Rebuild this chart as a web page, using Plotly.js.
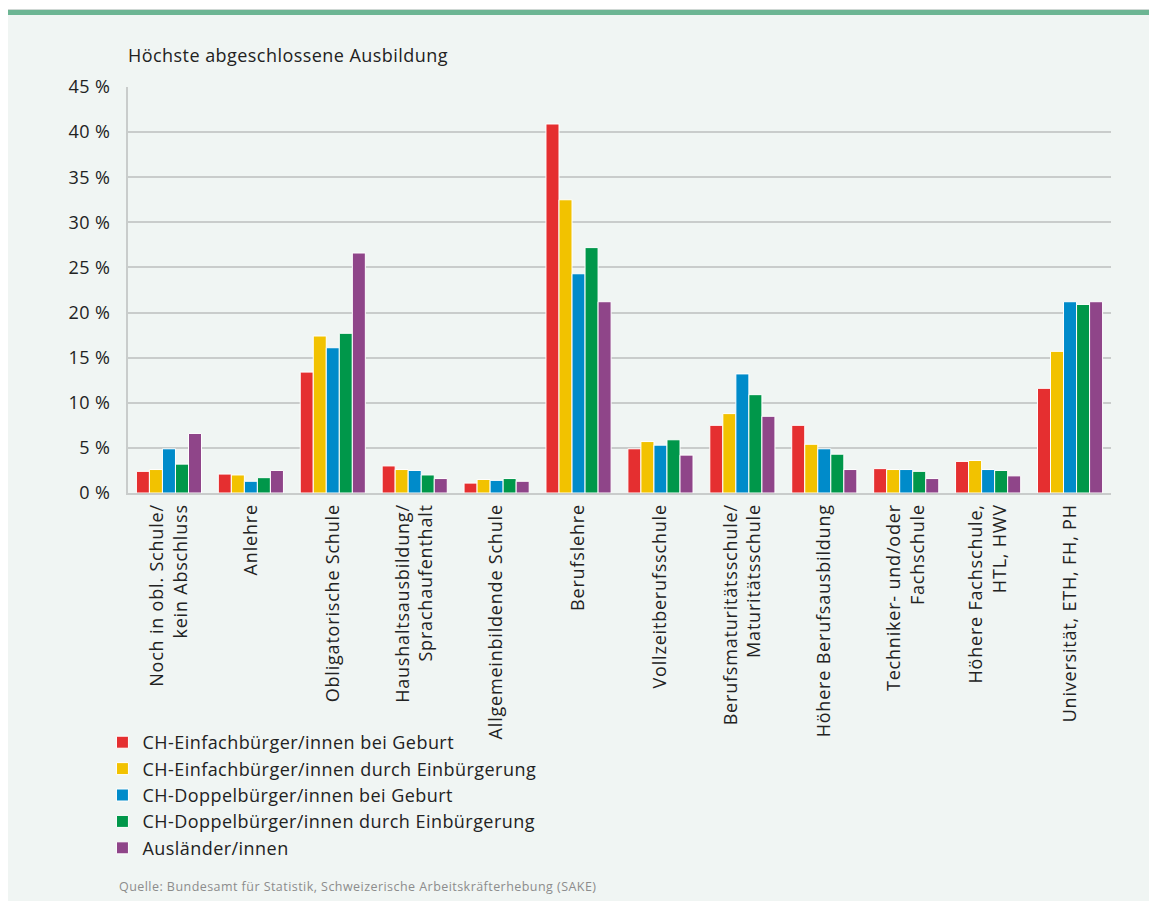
<!DOCTYPE html>
<html>
<head>
<meta charset="utf-8">
<script src="https://cdn.plot.ly/plotly-3.0.1.min.js"></script>
<style>
  html, body { margin: 0; padding: 0; background: #ffffff; }
  #wrap { position: absolute; left: 8px; top: 9px; width: 1141px; height: 892px;
          background: #f0f5f3; border-top: 1px solid #cfd8d4; }
  #bar { height: 5px; background: #6cb593; }
  #chart { width: 1141px; height: 886px; }
  #chart svg text { letter-spacing: 0.45px; }
  #chart svg .xtick text { letter-spacing: 0.8px; }
  #chart .legend .scrollbox { clip-path: none !important; }
</style>
</head>
<body>
<div id="wrap"><div id="bar"></div><div id="chart"></div></div>
<script>
const categories = [
  "Noch in obl. Schule/<br>kein Abschluss",
  "Anlehre",
  "Obligatorische Schule",
  "Haushaltsausbildung/<br>Sprachaufenthalt",
  "Allgemeinbildende Schule",
  "Berufslehre",
  "Vollzeitberufsschule",
  "Berufsmaturitätsschule/<br>Maturitätsschule",
  "Höhere Berufsausbildung",
  "Techniker- und/oder<br>Fachschule",
  "Höhere Fachschule,<br>HTL, HWV",
  "Universität, ETH, FH, PH"
];
const seriesNames = [
  "CH-Einfachbürger/innen bei Geburt",
  "CH-Einfachbürger/innen durch Einbürgerung",
  "CH-Doppelbürger/innen bei Geburt",
  "CH-Doppelbürger/innen durch Einbürgerung",
  "Ausländer/innen"
];
const einfachGeburt       = [2.4, 2.1, 13.4, 3.0, 1.1, 40.9, 4.9, 7.5, 7.5, 2.7, 3.5, 11.6];
const einfachEinbuergert  = [2.6, 2.0, 17.4, 2.6, 1.5, 32.5, 5.7, 8.8, 5.4, 2.6, 3.6, 15.7];
const doppelGeburt        = [4.9, 1.3, 16.1, 2.5, 1.4, 24.3, 5.3, 13.2, 4.9, 2.6, 2.6, 21.2];
const doppelEinbuergert   = [3.2, 1.7, 17.7, 2.0, 1.6, 27.2, 5.9, 10.9, 4.3, 2.4, 2.5, 20.9];
const auslaender          = [6.6, 2.5, 26.6, 1.6, 1.3, 21.2, 4.2, 8.5, 2.6, 1.6, 1.9, 21.2];
const yTicks = [0, 5, 10, 15, 20, 25, 30, 35, 40, 45];

const values = [einfachGeburt, einfachEinbuergert, doppelGeburt, doppelEinbuergert, auslaender];
const colors = ["#e52f30", "#f2c200", "#008bca", "#00974a", "#8f4589"];

const FONT = "Open Sans, Noto Sans, sans-serif";

const traces = values.map((v, i) => ({
  type: "bar",
  name: seriesNames[i],
  x: categories,
  y: v,
  marker: { color: colors[i], line: { color: "#ffffff", width: 1 } },
  hoverinfo: "x+y+name"
}));

const layout = {
  width: 1141,
  height: 886,
  paper_bgcolor: "#f0f5f3",
  plot_bgcolor: "#f0f5f3",
  margin: { l: 120, r: 38, t: 72, b: 408 },
  barmode: "group",
  bargap: 0.205,
  bargroupgap: 0,
  font: { family: FONT, color: "#222222", size: 18 },
  title: {
    text: "Höchste abgeschlossene Ausbildung",
    font: { family: FONT, size: 18, color: "#222222" },
    xref: "paper", x: 0, xanchor: "left",
    yref: "container", y: 0.954, yanchor: "middle"
  },
  xaxis: {
    type: "category",
    tickangle: -90,
    showgrid: false,
    showline: true,
    linecolor: "#c9cccb",
    linewidth: 2,
    ticks: "",
    tickfont: { family: FONT, size: 18, color: "#222222" },
    ticklabelstandoff: 2,
    fixedrange: true
  },
  yaxis: {
    range: [0, 45],
    tickvals: yTicks,
    ticktext: yTicks.map(t => t + " %"),
    showgrid: true,
    gridcolor: "#c9cccb",
    gridwidth: 1.5,
    zeroline: false,
    showline: true,
    linecolor: "#c9cccb",
    linewidth: 2,
    ticks: "",
    tickfont: { family: FONT, size: 18, color: "#222222" },
    ticklabelstandoff: 12,
    fixedrange: true
  },
  showlegend: true,
  legend: {
    orientation: "v",
    x: -0.026, xanchor: "left",
    y: -0.569, yanchor: "top",
    bgcolor: "rgba(0,0,0,0)",
    font: { family: FONT, size: 18, color: "#222222" },
    tracegroupgap: 0,
    itemclick: false, itemdoubleclick: false
  },
  annotations: [{
    text: "Quelle: Bundesamt für Statistik, Schweizerische Arbeitskräfterhebung (SAKE)",
    xref: "paper", yref: "paper",
    x: -0.011, xanchor: "left", align: "left",
    y: -0.968, yanchor: "middle",
    showarrow: false,
    font: { family: FONT, size: 12.5, color: "#8c8c8c" }
  }]
};

Plotly.newPlot("chart", traces, layout, { displayModeBar: false, staticPlot: false });
</script>
</body>
</html>
